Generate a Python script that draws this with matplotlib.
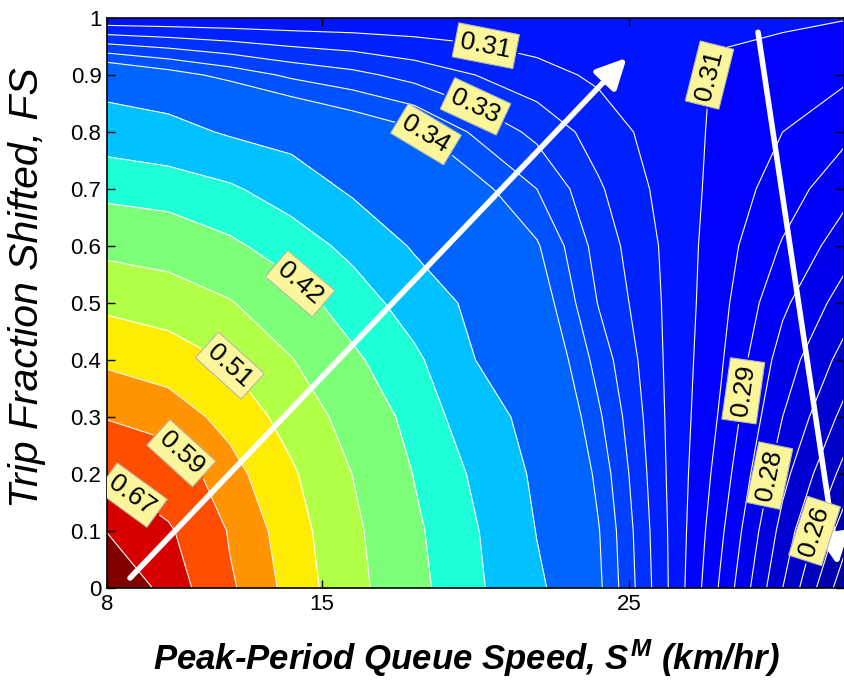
import numpy as np
import matplotlib
matplotlib.use('Agg')
import matplotlib.pyplot as plt

plt.rcParams['font.family'] = ['Liberation Sans', 'DejaVu Sans']
plt.rcParams['mathtext.fontset'] = 'custom'
plt.rcParams['mathtext.it'] = 'Liberation Sans:bold:italic'
plt.rcParams['mathtext.rm'] = 'Liberation Sans:bold:italic'

# grid: peak-period queue speed (km/hr) and trip fraction shifted
speed = [8, 10, 12, 14, 16, 18, 20, 22, 24, 26, 28, 30, 32]
fraction = [0.0, 0.1, 0.2, 0.3, 0.4, 0.5, 0.6, 0.7, 0.8, 0.9, 1.0]

# surface values, one list per speed (bottom to top along FS)
z_08 = [0.85, 0.747, 0.666, 0.586, 0.543, 0.501, 0.453, 0.409, 0.3755, 0.3461, 0.3075]
z_10 = [0.715, 0.680, 0.620, 0.570, 0.531, 0.490, 0.444, 0.404, 0.369, 0.3406, 0.3075]
z_12 = [0.597, 0.585, 0.564, 0.5375, 0.507, 0.468, 0.426, 0.394, 0.357, 0.3352, 0.3075]
z_14 = [0.536, 0.529, 0.516, 0.494, 0.467, 0.434, 0.405, 0.376, 0.3498, 0.330, 0.3075]
z_16 = [0.479, 0.474, 0.4644, 0.447, 0.426, 0.405, 0.382, 0.3558, 0.3438, 0.3268, 0.3075]
z_18 = [0.430, 0.426, 0.419, 0.4086, 0.396, 0.3764, 0.3572, 0.348, 0.3388, 0.3227, 0.3075]
z_20 = [0.395, 0.392, 0.385, 0.3725, 0.360, 0.3534, 0.3468, 0.3401, 0.3301, 0.31875, 0.3075]
z_22 = [0.364, 0.3592, 0.355, 0.3508, 0.3467, 0.3425, 0.3383, 0.33125, 0.3233, 0.3147, 0.3075]
z_24 = [0.339, 0.338, 0.3356, 0.3324, 0.3288, 0.3247, 0.3224, 0.3196, 0.316, 0.3114, 0.3075]
z_26 = [0.3157, 0.3151, 0.3143, 0.3137, 0.3132, 0.3128, 0.3123, 0.3111, 0.3099, 0.3086, 0.3075]
z_28 = [0.2926, 0.2948, 0.2971, 0.2991, 0.3006, 0.3018, 0.3027, 0.3041, 0.305, 0.3057, 0.3069]
z_30 = [0.2688, 0.2727, 0.2771, 0.28125, 0.2847, 0.2888, 0.2932, 0.2969, 0.300, 0.3035, 0.3072]
z_32 = [0.246, 0.2531, 0.2604, 0.2669, 0.2727, 0.2784, 0.2841, 0.2897, 0.2953, 0.3012, 0.3065]

columns = [z_08, z_10, z_12, z_14, z_16, z_18, z_20, z_22, z_24, z_26, z_28, z_30, z_32]

# contour levels
fine_levels = [0.25, 0.25625, 0.2625, 0.26875, 0.275, 0.28125, 0.2875, 0.29375,
               0.3, 0.30625, 0.3125, 0.31875, 0.325, 0.33125, 0.3375]
coarse_levels = [0.36, 0.39, 0.42, 0.465, 0.51, 0.55, 0.59, 0.67, 0.75]
z_floor, z_ceiling = 0.24, 0.86

# labelled contours and where their tags sit
label_levels = [0.67, 0.59, 0.51, 0.42, 0.3375, 0.325, 0.3125, 0.30625,
                0.29375, 0.28125, 0.2625]
label_spots = [(8.75, 0.158), (10.64, 0.248), (12.21, 0.40), (14.65, 0.555),
               (18.49, 0.803), (20.06, 0.851), (20.33, 0.95), (27.58, 0.90),
               (28.71, 0.346), (29.6, 0.197), (31.04, 0.10)]

# jet positions for each filled band, lowest band first
band_jet = [0.03, 0.041, 0.052, 0.063, 0.074, 0.085, 0.096, 0.106, 0.117, 0.128,
            0.145, 0.16, 0.175, 0.19, 0.205, 0.225,
            0.3125, 0.39, 0.5, 0.5625, 0.66, 0.75, 0.825, 0.925, 1.0]

# direction arrows (start, end)
arrow_up = ((8.75, 0.0175), (24.92, 0.93))
arrow_down = ((29.2, 0.975), (31.8, 0.04))

X, Y = np.meshgrid(speed, fraction)
Z = np.column_stack(columns)

levels = [z_floor] + fine_levels + coarse_levels + [z_ceiling]
band_colors = [plt.cm.jet(p) for p in band_jet]
plain_levels = [v for v in fine_levels + coarse_levels if v not in label_levels]
tagged_levels = sorted(label_levels)

fig = plt.figure(figsize=(8.44, 6.81), dpi=100)
ax = fig.add_axes([107 / 844, 1 - 588 / 681, 737 / 844, 570 / 681])

ax.contourf(X, Y, Z, levels=levels, colors=band_colors)
ax.contour(X, Y, Z, levels=plain_levels, colors='white', linewidths=0.8)
tagged = ax.contour(X, Y, Z, levels=tagged_levels, colors='white', linewidths=0.8)

tags = ax.clabel(tagged, inline=True, fmt='%.2f', fontsize=19,
                 manual=label_spots, inline_spacing=8)
for t in tags:
    t.set_color('black')
    t.set_bbox(dict(boxstyle='square,pad=0.2', fc='#fbf69c', ec='#b8b8a8', lw=0.8))

for start, end in (arrow_up, arrow_down):
    ax.annotate('', xy=end, xytext=start,
                arrowprops=dict(arrowstyle='-|>,head_length=0.6,head_width=0.3',
                                color='white', lw=4, mutation_scale=30,
                                shrinkA=0, shrinkB=0))

ax.set_xlim(8, 32)
ax.set_ylim(0, 1)
ax.set_xticks([8, 15, 25])
ax.set_xticklabels(['8', '15', '25'])
ax.set_yticks([0, 0.1, 0.2, 0.3, 0.4, 0.5, 0.6, 0.7, 0.8, 0.9, 1.0])
ax.set_yticklabels(['0', '0.1', '0.2', '0.3', '0.4', '0.5', '0.6', '0.7', '0.8', '0.9', '1'])
ax.tick_params(direction='in', length=6, width=1, labelsize=16,
               top=True, right=True, pad=4)
for s in ax.spines.values():
    s.set_linewidth(1.2)
    s.set_color('black')

fig.text(466 / 844, 1 - 658 / 681, 'Peak-Period Queue Speed, $S^M$ (km/hr)',
         ha='center', va='center', fontsize=25, fontweight='bold', style='italic')
fig.text(27 / 844, 1 - 288 / 681, 'Trip Fraction Shifted, FS',
         ha='center', va='center', rotation=90, fontsize=29.5, style='italic')

fig.savefig('out.png', dpi=100)
